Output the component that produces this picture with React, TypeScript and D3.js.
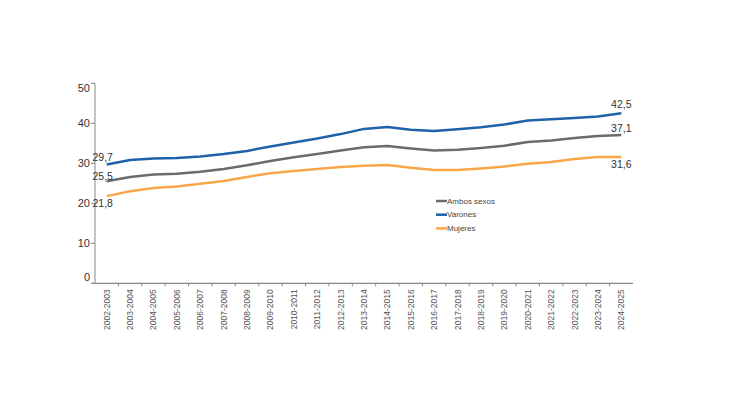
import React from "react";
import * as d3 from "d3";

const categories = ["2002-2003","2003-2004","2004-2005","2005-2006","2006-2007","2007-2008","2008-2009","2009-2010","2010-2011","2011-2012","2012-2013","2013-2014","2014-2015","2015-2016","2016-2017","2017-2018","2018-2019","2019-2020","2020-2021","2021-2022","2022-2023","2023-2024","2024-2025"];
const ambos = [25.5,26.6,27.2,27.4,27.9,28.6,29.5,30.6,31.5,32.3,33.2,34.0,34.3,33.7,33.2,33.4,33.8,34.4,35.3,35.7,36.3,36.8,37.1];
const varones = [29.7,30.8,31.2,31.3,31.7,32.3,33.1,34.2,35.2,36.2,37.3,38.6,39.1,38.4,38.1,38.5,39.0,39.7,40.7,41.0,41.3,41.7,42.5];
const mujeres = [21.8,23.0,23.8,24.2,24.9,25.6,26.6,27.5,28.1,28.6,29.1,29.4,29.6,28.9,28.3,28.3,28.7,29.2,29.9,30.3,31.1,31.6,31.6];
const yTicks = [0,10,20,30,40,50];
const seriesNames = ["Ambos sexos","Varones","Mujeres"];

const W = 750, H = 410;
const left = 95, right = 633, top = 83.3, bottom = 283.3;
const colors = ["#6b6b6b", "#1f62a8", "#f9a64a"];
const FONT = "'Liberation Sans', Arial, Helvetica, sans-serif";

export default function App() {
  const x = d3.scaleBand<string>().domain(categories).range([left, right]);
  const y = d3.scaleLinear().domain([0, 50]).range([bottom, top]);
  const cx = (c: string) => (x(c) as number) + x.bandwidth() / 2;
  const line = d3.line<number>().x((_, i) => cx(categories[i])).y((d) => y(d));
  const series = [ambos, varones, mujeres];
  const last = categories.length - 1;
  const fmt = (v: number) => v.toFixed(1).replace(".", ",");
  return (
    <svg width={W} height={H} style={{ position: "absolute", left: 0, top: 0, background: "#fff" }} fontFamily={FONT}>
      {/* y axis */}
      <line x1={left} x2={left} y1={top} y2={bottom} stroke="#888" strokeWidth={1} />
      {yTicks.map((t, i) => (
        <g key={t}>
          <line x1={left - 4} x2={left} y1={y(t)} y2={y(t)} stroke="#888" />
          <text x={left - 5} y={y(t) + (i === 0 ? -6 : i === yTicks.length - 1 ? 5 : 0)} textAnchor="end" dominantBaseline="central" fontSize={11} fill="#333">{t}</text>
        </g>
      ))}
      {/* x axis */}
      <line x1={left - 3} x2={right} y1={bottom} y2={bottom} stroke="#888" strokeWidth={1.2} />
      {categories.map((c, i) => (
        <g key={c}>
          {i < categories.length - 1 && (
            <line x1={(x(c) as number) + x.bandwidth()} x2={(x(c) as number) + x.bandwidth()} y1={bottom} y2={bottom + 3} stroke="#888" />
          )}
          <text transform={`translate(${cx(c)},${bottom + 6}) rotate(-90)`} textAnchor="end" dominantBaseline="central" fontSize={8.5} fill="#555">{c}</text>
        </g>
      ))}
      {/* lines */}
      {series.map((s, i) => (
        <path key={i} d={line(s) as string} fill="none" stroke={colors[i]} strokeWidth={2.5} strokeLinejoin="round" />
      ))}
      {/* start labels */}
      <text x={cx(categories[0]) - 4} y={y(varones[0]) - 8} textAnchor="middle" dominantBaseline="central" fontSize={10.5} fill="#333">{fmt(varones[0])}</text>
      <text x={cx(categories[0]) - 4} y={y(ambos[0]) - 5.5} textAnchor="middle" dominantBaseline="central" fontSize={10.5} fill="#333">{fmt(ambos[0])}</text>
      <text x={cx(categories[0]) - 4} y={y(mujeres[0]) + 7} textAnchor="middle" dominantBaseline="central" fontSize={10.5} fill="#333">{fmt(mujeres[0])}</text>
      {/* end labels */}
      <text x={cx(categories[last])} y={y(varones[last]) - 9} textAnchor="middle" dominantBaseline="central" fontSize={10.5} fill="#333">{fmt(varones[last])}</text>
      <text x={cx(categories[last])} y={y(ambos[last]) - 7} textAnchor="middle" dominantBaseline="central" fontSize={10.5} fill="#333">{fmt(ambos[last])}</text>
      <text x={cx(categories[last])} y={y(mujeres[last]) + 7} textAnchor="middle" dominantBaseline="central" fontSize={10.5} fill="#333">{fmt(mujeres[last])}</text>
      {/* legend */}
      {seriesNames.map((n, i) => (
        <g key={n} transform={`translate(436,${201 + i * 13.7})`}>
          <line x1={0} x2={11} y1={0} y2={0} stroke={colors[i]} strokeWidth={2.5} />
          <text x={11} y={0} dominantBaseline="central" fontSize={8} fill="#444">{n}</text>
        </g>
      ))}
    </svg>
  );
}
